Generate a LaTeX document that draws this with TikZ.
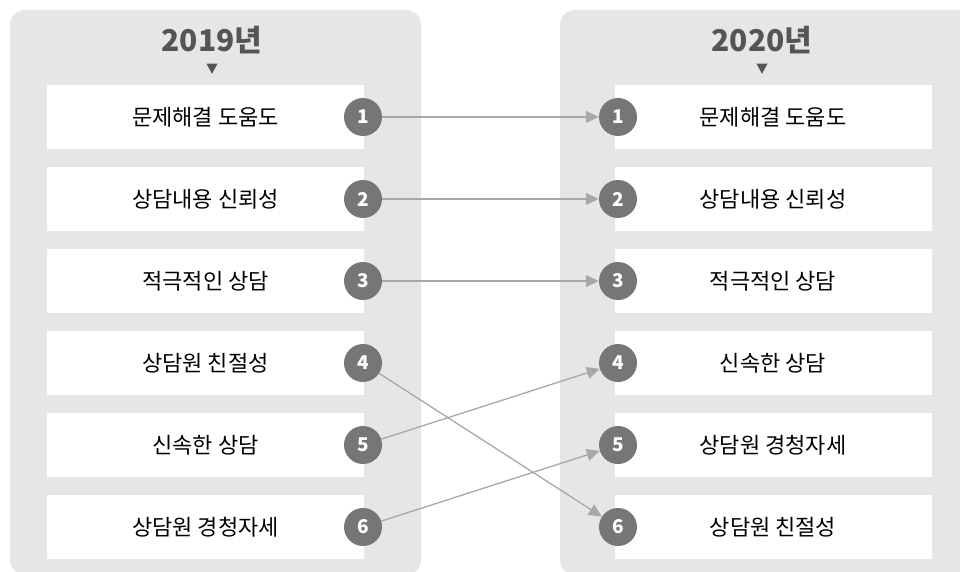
\documentclass[tikz,border=0pt]{standalone}
\usepackage{fontspec}
\setmainfont{Noto Sans CJK KR}
\usetikzlibrary{arrows.meta,positioning,shapes.geometric}
\definecolor{panelgray}{RGB}{230,230,230}
\definecolor{dotgray}{RGB}{118,118,118}
\definecolor{titlegray}{RGB}{85,85,85}
\definecolor{linkgray}{RGB}{168,168,168}

\begin{document}
\begin{tikzpicture}[x=1pt, y=-1pt, >=Stealth,
      panel/.style={fill=panelgray, rounded corners=15pt},
      box/.style={fill=white, minimum width=317pt, minimum height=64pt,
                  inner sep=0pt, font=\fontsize{22}{22}\selectfont},
      num/.style={circle, fill=dotgray, minimum size=38pt, inner sep=0pt,
                  text=white, font=\fontsize{19}{19}\selectfont\bfseries},
      title/.style={text=titlegray, font=\fontsize{30}{30}\selectfont\bfseries},
      pointer/.style={isosceles triangle, shape border rotate=-90,
                      isosceles triangle stretches, fill=titlegray,
                      minimum width=11pt, minimum height=10pt, inner sep=0pt},
      arr/.style={-{Triangle[length=13pt, width=12pt]}, color=linkgray,
                  line width=1.3pt}
    ]
    \useasboundingbox (0,0) rectangle (960,572);

    % two year panels
    \fill[panel] (10,10) rectangle (421,575);
    \fill[panel] (560,10) rectangle (975,575);

    \node[title] (y19) at (212,40) {2019년};
    \node[pointer] (t19) at (212,67) {};
    \node[title] (y20) at (762,40) {2020년};
    \node[pointer] (t20) at (762,67) {};

    % 2019 ranking
    \foreach \i/\txt in {1/문제해결 도움도, 2/상담내용 신뢰성, 3/적극적인 상담,
                         4/상담원 친절성, 5/신속한 상담, 6/상담원 경청자세} {
      \node[box] (l\i) at (205.5,{117+82*(\i-1)}) {\txt};
      \node[num] (lc\i) at (363,{117+82*(\i-1)}) {\i};
    }

    % 2020 ranking
    \foreach \i/\txt in {1/문제해결 도움도, 2/상담내용 신뢰성, 3/적극적인 상담,
                         4/신속한 상담, 5/상담원 경청자세, 6/상담원 친절성} {
      \node[box] (r\i) at (773,{117+82*(\i-1)}) {\txt};
      \node[num] (rc\i) at (618,{117+82*(\i-1)}) {\i};
    }

    \draw[arr] (lc1) -- (rc1);
    \draw[arr] (lc2) -- (rc2);
    \draw[arr] (lc3) -- (rc3);
    \draw[arr] (lc4) -- (rc6);
    \draw[arr] (lc5) -- (rc4);
    \draw[arr] (lc6) -- (rc5);
  \end{tikzpicture}
\end{document}
